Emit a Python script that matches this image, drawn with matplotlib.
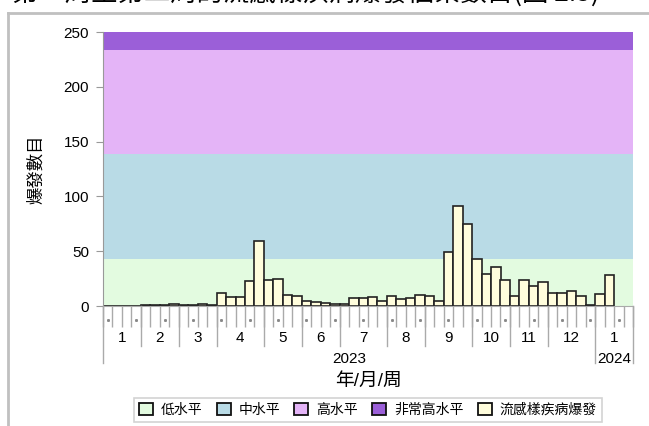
import pandas as pd
import matplotlib.pyplot as plt
from matplotlib.patches import Patch
from matplotlib.lines import Line2D

plt.rcParams['font.family'] = ['Liberation Sans', 'Noto Sans CJK TC']

# datos: brotes semanales (semanas que terminan en sábado)
semanas = pd.date_range('2023-01-07', periods=56, freq='W-SAT')
brotes = [0, 0, 0, 0, 1, 1, 1, 2, 1, 1, 2, 1, 12, 8, 8, 23, 59, 24, 25, 10,
          9, 5, 4, 3, 2, 2, 7, 7, 8, 5, 9, 6, 7, 10, 9, 5, 49, 91, 75, 43,
          29, 36, 24, 9, 24, 18, 22, 12, 12, 14, 9, 1, 11, 28]
niveles = ['低水平', '中水平', '高水平', '非常高水平']
limites = [0, 43, 139, 234, 250]
colores = ['#e3fbe0', '#b9dbe6', '#e4b4f7', '#9b5fd8']
color_barra = '#fffddc'
titulo = '第一周至第二周的流感樣疾病爆發個案數目(圖 2.3)'

fig = plt.figure(figsize=(6.49, 4.26), dpi=100)
W, H = 649, 426
ax = fig.add_axes([103 / W, 1 - 306 / H, 530 / W, 274 / H])

# marco gris de la captura
fig.add_artist(Line2D([8 / W, 8 / W], [0, 1 - 13 / H], color='#c0c0c0', lw=2))
fig.add_artist(Line2D([8 / W, 1], [1 - 13 / H, 1 - 13 / H], color='#c0c0c0', lw=2))
# titulo cortado arriba (solo se ve la parte de abajo)
fig.text(306 / W, 1 - 2 / H, titulo, ha='center', va='baseline', fontsize=19,
         family=['Noto Sans CJK TC'])

n = len(semanas)
for i in range(len(niveles)):
    ax.axhspan(limites[i], limites[i + 1], color=colores[i], lw=0, zorder=0)

ax.bar(range(len(brotes)), brotes, width=1, align='edge', color=color_barra,
       edgecolor='#222222', linewidth=1.2, zorder=2)

ax.set_xlim(0, n)
ax.set_ylim(0, 250)
ax.set_yticks(range(0, 251, 50))
ax.tick_params(axis='y', length=5, color='#999999', labelsize=11, pad=5)
ax.set_xticks([])
ax.set_xticks(range(n + 1), minor=True)
ax.tick_params(axis='x', which='minor', length=15, color='#aaaaaa', width=1)
for s in ['top', 'right']:
    ax.spines[s].set_visible(False)
ax.spines['left'].set_color('#999999')
ax.spines['bottom'].set_color('#aaaaaa')
ax.set_ylabel('爆發數目', fontsize=12.5, labelpad=14)

tr = ax.get_xaxis_transform()
ph = 274  # alto del eje en px

# puntitos cada 3 semanas
for i in range(0, n, 3):
    ax.plot(i + 0.5, -14 / ph, marker='s', ms=1.1, color='#888888', transform=tr,
            clip_on=False)

# meses
meses = pd.Series(range(n), index=semanas)
grupos = meses.groupby([semanas.year, semanas.month])
anios = {}
for (y, m), idx in grupos:
    a, b = idx.iloc[0], idx.iloc[-1] + 1
    largo = 57 if (m == 1) else 40
    ax.plot([a, a], [0, -largo / ph], color='#aaaaaa', lw=1, transform=tr, clip_on=False)
    ax.annotate(str(m), xy=((a + b) / 2, 0), xycoords=tr, xytext=(0, -32),
                textcoords='offset pixels', ha='center', va='center', fontsize=11)
    anios.setdefault(y, [a, b])
    anios[y][1] = b
ax.plot([n, n], [0, -57 / ph], color='#aaaaaa', lw=1, transform=tr, clip_on=False)
for y, (a, b) in anios.items():
    ax.annotate(str(y), xy=((a + b) / 2, 0), xycoords=tr, xytext=(0, -53),
                textcoords='offset pixels', ha='center', va='center', fontsize=11)

ax.annotate('年/月/周', xy=(0.5, 0), xycoords='axes fraction', xytext=(0, -75),
            textcoords='offset pixels', ha='center', va='center', fontsize=13.5)

handles = [Patch(facecolor=c, edgecolor='#111111', lw=1.3) for c in colores]
handles.append(Patch(facecolor=color_barra, edgecolor='#111111', lw=1.3))
leg = fig.legend(handles, niveles + ['流感樣疾病爆發'], loc='center',
                 bbox_to_anchor=(368 / W, 1 - 410 / H), ncol=5, fontsize=10,
                 frameon=True, fancybox=False, edgecolor='#c8c8c8',
                 handlelength=1.0, handleheight=1.0, handletextpad=0.6,
                 columnspacing=1.0, borderpad=0.35)
leg.get_frame().set_linewidth(1.2)

plt.savefig('out.png', dpi=100)
